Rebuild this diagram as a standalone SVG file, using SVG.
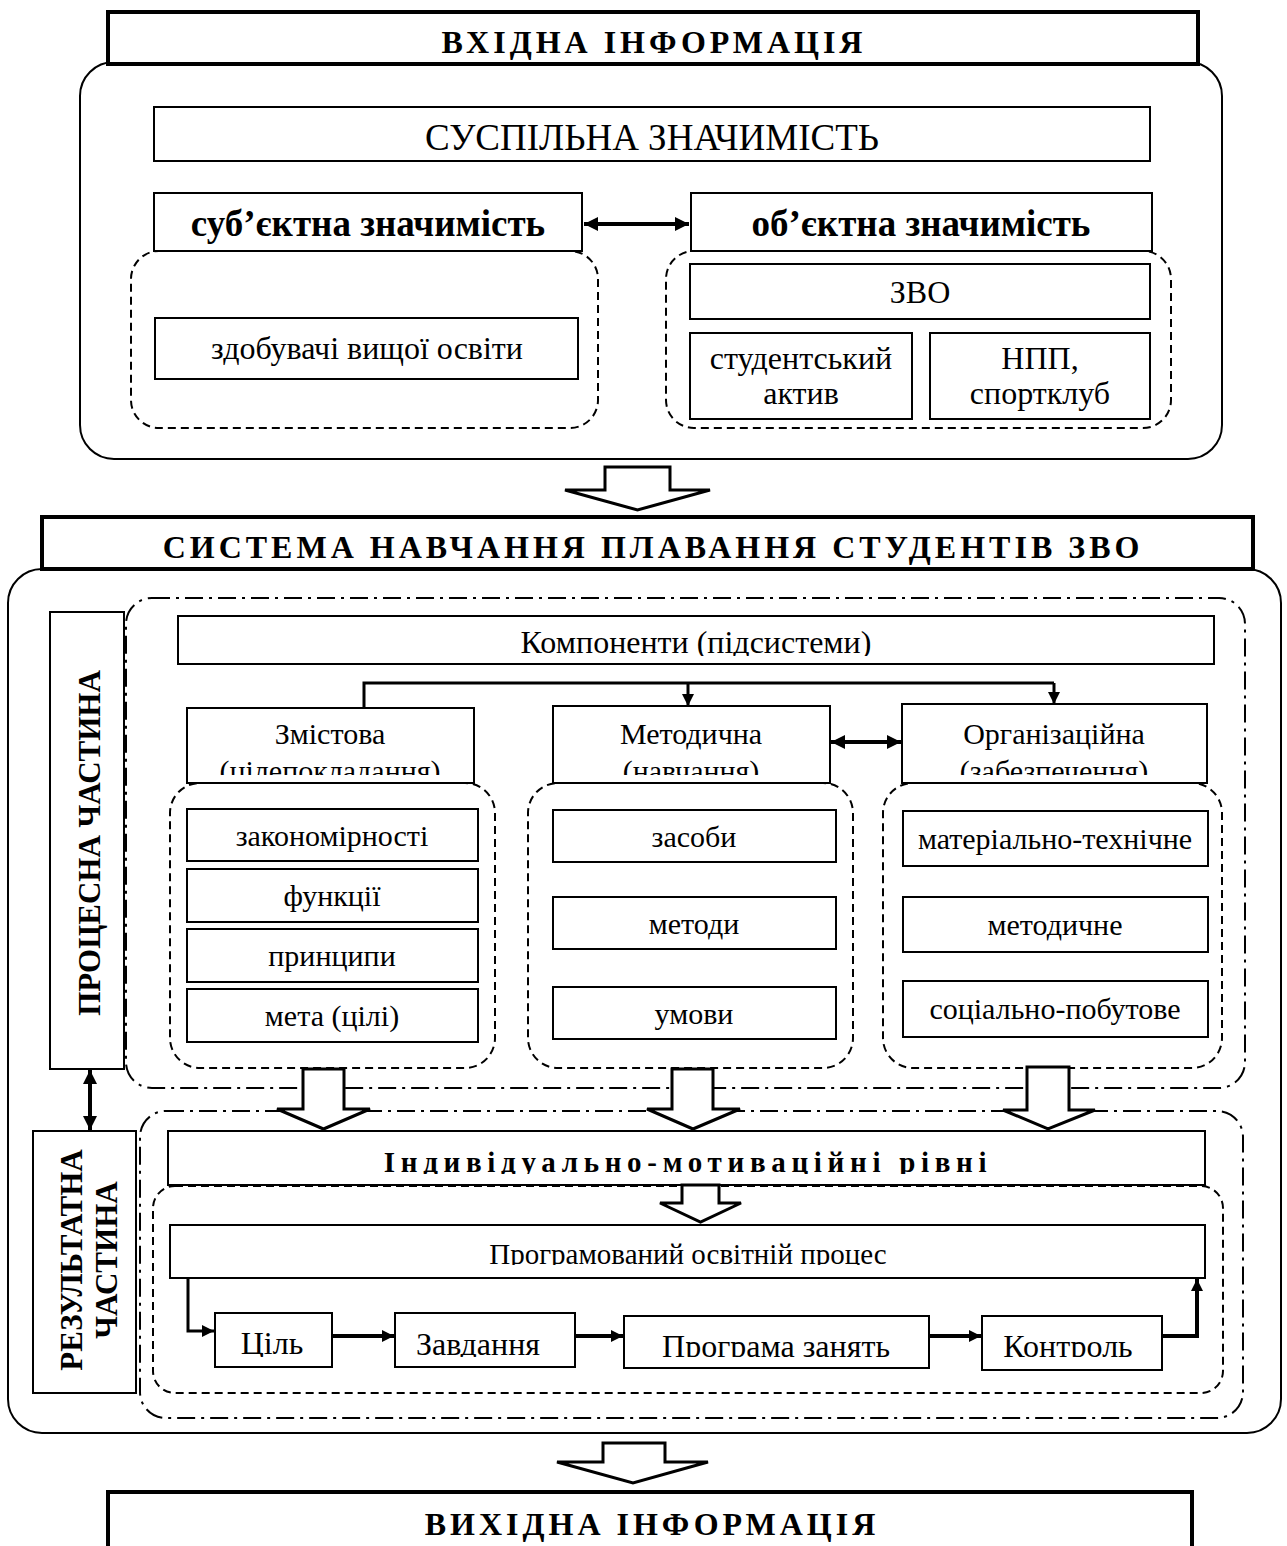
<svg xmlns="http://www.w3.org/2000/svg" width="1287" height="1546" viewBox="0 0 1287 1546">
<style>
text{font-family:"Liberation Serif","Times New Roman",serif;fill:#000;text-anchor:middle}
.n{font-size:32px}
.s{font-size:30px}
.f{font-size:32px}
.b{font-weight:bold}
.h{font-weight:bold;font-size:32px;letter-spacing:4px}
.box{fill:#fff;stroke:#000;stroke-width:2}
.hdr{fill:#fff;stroke:#000;stroke-width:4}
.outer{fill:none;stroke:#000;stroke-width:2}
.dash{fill:none;stroke:#000;stroke-width:2;stroke-dasharray:8 5}
.dd{fill:none;stroke:#000;stroke-width:2;stroke-dasharray:18 6 3 6}
.conn{fill:none;stroke:#000;stroke-width:3}
.thick{fill:none;stroke:#000;stroke-width:4}
.hollow{fill:#fff;stroke:#000;stroke-width:3;stroke-linejoin:miter}
</style>
<defs>
<marker id="ah" viewBox="0 0 12 12" refX="12" refY="6" markerWidth="12" markerHeight="12" markerUnits="userSpaceOnUse" orient="auto-start-reverse"><path d="M0,0 L12,6 L0,12 z" fill="#000"/></marker>
<marker id="ahb" viewBox="0 0 14 14" refX="14" refY="7" markerWidth="14" markerHeight="14" markerUnits="userSpaceOnUse" orient="auto-start-reverse"><path d="M0,0 L14,7 L0,14 z" fill="#000"/></marker>
<clipPath id="cKomp" clipPathUnits="userSpaceOnUse"><rect x="178" y="616" width="1036" height="40"/></clipPath>
<clipPath id="cZm" clipPathUnits="userSpaceOnUse"><rect x="187" y="708" width="287" height="67"/></clipPath>
<clipPath id="cMet" clipPathUnits="userSpaceOnUse"><rect x="553" y="706" width="277" height="69"/></clipPath>
<clipPath id="cOrg" clipPathUnits="userSpaceOnUse"><rect x="902" y="704" width="305" height="71"/></clipPath>
<clipPath id="cInd" clipPathUnits="userSpaceOnUse"><rect x="168" y="1131" width="1037" height="43"/></clipPath>
<clipPath id="cProg" clipPathUnits="userSpaceOnUse"><rect x="170" y="1225" width="1035" height="40"/></clipPath>
<clipPath id="cFlow" clipPathUnits="userSpaceOnUse"><rect x="200" y="1310" width="980" height="47"/></clipPath>
</defs>

<g id="containers">
<rect class="outer" x="80" y="62" width="1142" height="397" rx="34"/>
<rect class="outer" x="8" y="569" width="1273" height="864" rx="34"/>
<rect class="dash" x="131" y="251" width="467" height="177" rx="28"/>
<rect class="dash" x="666" y="251" width="505" height="177" rx="28"/>
<rect class="dd" x="126" y="598" width="1119" height="490" rx="26"/>
<rect class="dash" x="170" y="783" width="325" height="285" rx="30"/>
<rect class="dash" x="528" y="783" width="325" height="285" rx="30"/>
<rect class="dash" x="883" y="783" width="339" height="285" rx="30"/>
<rect class="dd" x="140" y="1111" width="1103" height="307" rx="26"/>
<rect class="dash" x="153" y="1186" width="1070" height="207" rx="22"/>
</g>

<g id="vhidna">
<rect class="hdr" x="108" y="12" width="1090" height="52"/>
<text class="h" x="654" y="53">ВХІДНА ІНФОРМАЦІЯ</text>
</g>
<g id="suspilna">
<rect class="box" x="154" y="107" width="996" height="54"/>
<text x="652" y="150" style="font-size:37px">СУСПІЛЬНА ЗНАЧИМІСТЬ</text>
</g>
<g id="subjektna">
<rect class="box" x="154" y="193" width="428" height="58"/>
<text class="b" x="368" y="236" style="font-size:37px">суб’єктна значимість</text>
</g>
<g id="objektna">
<rect class="box" x="691" y="193" width="461" height="58"/>
<text class="b" x="921" y="236" style="font-size:37px">об’єктна значимість</text>
</g>
<g id="zdobuvachi">
<rect class="box" x="155" y="318" width="423" height="61"/>
<text class="n" x="367" y="359">здобувачі вищої освіти</text>
</g>
<g id="zvo">
<rect class="box" x="690" y="264" width="460" height="55"/>
<text class="n" x="920" y="303">ЗВО</text>
</g>
<g id="aktiv">
<rect class="box" x="690" y="333" width="222" height="86"/>
<text class="n" x="801" y="369">студентський</text>
<text class="n" x="801" y="404">актив</text>
</g>
<g id="npp">
<rect class="box" x="930" y="333" width="220" height="86"/>
<text class="n" x="1040" y="369">НПП,</text>
<text class="n" x="1040" y="404">спортклуб</text>
</g>

<g id="systema">
<rect class="hdr" x="42" y="517" width="1211" height="52"/>
<text class="h" x="653" y="558">СИСТЕМА НАВЧАННЯ ПЛАВАННЯ СТУДЕНТІВ ЗВО</text>
</g>

<g id="procesna">
<rect class="box" x="50" y="612" width="74" height="457"/>
<text class="b" transform="translate(100,843) rotate(-90)" style="font-size:31px">ПРОЦЕСНА ЧАСТИНА</text>
</g>
<g id="rezultatna">
<rect class="box" x="33" y="1131" width="103" height="262"/>
<text class="b" transform="translate(82,1260) rotate(-90)" style="font-size:31px">РЕЗУЛЬТАТНА</text>
<text class="b" transform="translate(117,1260) rotate(-90)" style="font-size:31px">ЧАСТИНА</text>
</g>

<g id="komponenty">
<rect class="box" x="178" y="616" width="1036" height="48"/>
<text class="n" x="696" y="653" clip-path="url(#cKomp)">Компоненти (підсистеми)</text>
</g>
<g id="zmistova">
<rect class="box" x="187" y="708" width="287" height="75"/>
<text class="s" x="330" y="744">Змістова</text>
<text class="s" x="330" y="781" clip-path="url(#cZm)">(цілепокладання)</text>
</g>
<g id="metodychna">
<rect class="box" x="553" y="706" width="277" height="77"/>
<text class="s" x="691" y="744">Методична</text>
<text class="s" x="691" y="781" clip-path="url(#cMet)">(навчання)</text>
</g>
<g id="orhanizatsiina">
<rect class="box" x="902" y="704" width="305" height="79"/>
<text class="s" x="1054" y="744">Організаційна</text>
<text class="s" x="1054" y="781" clip-path="url(#cOrg)">(забезпечення)</text>
</g>

<g id="zakonomirnosti"><rect class="box" x="187" y="809" width="291" height="52"/><text class="s" x="332" y="846">закономірності</text></g>
<g id="funktsii"><rect class="box" x="187" y="869" width="291" height="53"/><text class="s" x="332" y="906">функції</text></g>
<g id="pryntsypy"><rect class="box" x="187" y="929" width="291" height="53"/><text class="s" x="332" y="966">принципи</text></g>
<g id="meta"><rect class="box" x="187" y="989" width="291" height="53"/><text class="s" x="332" y="1026">мета (цілі)</text></g>

<g id="zasoby"><rect class="box" x="553" y="810" width="283" height="52"/><text class="s" x="694" y="847">засоби</text></g>
<g id="metody"><rect class="box" x="553" y="897" width="283" height="52"/><text class="s" x="694" y="934">методи</text></g>
<g id="umovy"><rect class="box" x="553" y="987" width="283" height="52"/><text class="s" x="694" y="1024">умови</text></g>

<g id="materialne"><rect class="box" x="903" y="811" width="305" height="55"/><text class="s" x="1055" y="849">матеріально-технічне</text></g>
<g id="metodychne"><rect class="box" x="903" y="897" width="305" height="55"/><text class="s" x="1055" y="935">методичне</text></g>
<g id="sotsialne"><rect class="box" x="903" y="981" width="305" height="56"/><text class="s" x="1055" y="1019">соціально-побутове</text></g>

<g id="indyvidualno">
<rect class="box" x="168" y="1131" width="1037" height="54"/>
<text class="b" x="688" y="1172" style="font-size:29px;letter-spacing:5.7px" clip-path="url(#cInd)">Індивідуально-мотиваційні рівні</text>
</g>
<g id="programovanyi">
<rect class="box" x="170" y="1225" width="1035" height="53"/>
<text x="688" y="1264" style="font-size:29px" clip-path="url(#cProg)">Програмований освітній процес</text>
</g>
<g id="til"><rect class="box" x="215" y="1313" width="117" height="54"/><text class="f" x="272" y="1354" clip-path="url(#cFlow)">Ціль</text></g>
<g id="zavdannia"><rect class="box" x="395" y="1313" width="180" height="54"/><text class="f" x="478" y="1355" clip-path="url(#cFlow)">Завдання</text></g>
<g id="prohrama"><rect class="box" x="624" y="1316" width="305" height="52"/><text class="f" x="776" y="1357" clip-path="url(#cFlow)">Програма занять</text></g>
<g id="kontrol"><rect class="box" x="982" y="1316" width="180" height="54"/><text class="f" x="1068" y="1357" clip-path="url(#cFlow)">Контроль</text></g>

<g id="vyhidna">
<rect class="hdr" x="108" y="1492" width="1084" height="62"/>
<text class="h" x="652" y="1535">ВИХІДНА ІНФОРМАЦІЯ</text>
</g>

<g id="connectors">
<line class="thick" x1="584" y1="224" x2="689" y2="224" marker-start="url(#ahb)" marker-end="url(#ahb)"/>
<path class="conn" d="M364,708 V683 H1054"/>
<line class="conn" x1="688" y1="683" x2="688" y2="706" marker-end="url(#ah)"/>
<line class="conn" x1="1054" y1="683" x2="1054" y2="704" marker-end="url(#ah)"/>
<line class="thick" x1="831" y1="742" x2="901" y2="742" marker-start="url(#ahb)" marker-end="url(#ahb)"/>
<line class="thick" x1="90" y1="1070" x2="90" y2="1130" marker-start="url(#ahb)" marker-end="url(#ahb)"/>
<path class="conn" d="M188,1278 V1331 H214" marker-end="url(#ah)"/>
<line class="thick" x1="332" y1="1336" x2="394" y2="1336" marker-end="url(#ah)"/>
<line class="thick" x1="575" y1="1336" x2="623" y2="1336" marker-end="url(#ah)"/>
<line class="thick" x1="929" y1="1336" x2="981" y2="1336" marker-end="url(#ah)"/>
<path class="thick" d="M1162,1336 H1197 V1279" marker-end="url(#ah)"/>
<polygon class="hollow" points="605,467 670,467 670,490 710,490 637.5,510 565,490 605,490"/>
<polygon class="hollow" points="303,1069 344,1069 344,1109 370,1109 323.5,1129 277,1109 303,1109"/>
<polygon class="hollow" points="672,1069 713,1069 713,1109 740,1109 693,1129 647,1109 672,1109"/>
<polygon class="hollow" points="1027,1067 1069,1067 1069,1110 1095,1110 1048,1129 1003,1110 1027,1110"/>
<polygon class="hollow" points="682,1185 719,1185 719,1203 741,1203 700.5,1222 660,1203 682,1203"/>
<polygon class="hollow" points="603,1443 665,1443 665,1462 708,1462 633,1483 557,1462 603,1462"/>
</g>
</svg>
